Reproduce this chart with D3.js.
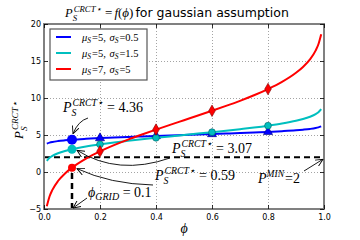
<!DOCTYPE html>
<html>
<head>
<meta charset="utf-8">
<script src="https://cdn.jsdelivr.net/npm/d3@7"></script>
<style>
body { margin: 0; background: #fff; }
svg { display: block; }
.tk text { font-family: "DejaVu Sans", sans-serif; font-size: 8px; fill: #000; }
.tk .domain { display: none; }
.grid line { stroke: #000; stroke-opacity: 0.6; stroke-dasharray: 1,2; stroke-width: 0.6; }
.grid .domain { display: none; }
.m { font-family: "Liberation Serif", "DejaVu Serif", serif; }
</style>
</head>
<body>
<svg id="chart" width="360" height="240"></svg>
<script>
// quantile curves
var phi = [0.01, 0.02, 0.03, 0.05, 0.075, 0.1, 0.15, 0.2, 0.25, 0.3, 0.35, 0.4, 0.45, 0.5,
  0.55, 0.6, 0.65, 0.7, 0.75, 0.8, 0.85, 0.9, 0.925, 0.95, 0.97, 0.98, 0.99];
var blueVals = [3.84, 3.97, 4.06, 4.18, 4.28, 4.36, 4.48, 4.58, 4.66, 4.74, 4.81, 4.87, 4.94, 5.00,
  5.06, 5.13, 5.19, 5.26, 5.34, 5.42, 5.52, 5.64, 5.72, 5.82, 5.94, 6.03, 6.16];
var cyanVals = [1.51, 1.92, 2.18, 2.53, 2.84, 3.08, 3.45, 3.74, 3.99, 4.21, 4.42, 4.62, 4.81, 5.00,
  5.19, 5.38, 5.58, 5.79, 6.01, 6.26, 6.55, 6.92, 7.16, 7.47, 7.82, 8.08, 8.49];
var redVals = [-4.63, -3.27, -2.41, -1.22, -0.20, 0.59, 1.82, 2.79, 3.63, 4.38, 5.07, 5.73, 6.37, 7.00,
  7.63, 8.27, 8.93, 9.62, 10.37, 11.21, 12.18, 13.41, 14.20, 15.22, 16.41, 17.27, 18.63];

// markers
var markPhi = [0.2, 0.4, 0.6, 0.8];
var blueMarks = [4.58, 4.87, 5.13, 5.42];
var cyanMarks = [3.74, 4.62, 5.38, 6.26];
var redMarks = [2.79, 5.73, 8.27, 11.21];

var phiGrid = 0.1;
var critVals = [4.36, 3.07, 0.59];
var pMin = 2;

var xTicks = [0, 0.2, 0.4, 0.6, 0.8, 1.0];
var yTicks = [-5, 0, 5, 10, 15, 20];

var svg = d3.select("#chart");
var x = d3.scaleLinear().domain([0, 1]).range([44, 324]);
var y = d3.scaleLinear().domain([-5, 20]).range([209, 24]);

// grid
svg.append("g").attr("class", "grid")
  .attr("transform", "translate(0,209)")
  .call(d3.axisBottom(x).tickValues([0.2, 0.4, 0.6, 0.8]).tickSize(-185).tickFormat(""));
svg.append("g").attr("class", "grid")
  .attr("transform", "translate(44,0)")
  .call(d3.axisLeft(y).tickValues([0, 5, 10, 15]).tickSize(-280).tickFormat(""));

// P_MIN and phi_GRID dashed lines
svg.append("line")
  .attr("x1", x(0)).attr("x2", x(1)).attr("y1", y(pMin)).attr("y2", y(pMin))
  .attr("stroke", "#000").attr("stroke-width", 2).attr("stroke-dasharray", "6,4");
svg.append("line")
  .attr("x1", x(phiGrid)).attr("x2", x(phiGrid)).attr("y1", y(-5)).attr("y2", y(critVals[2]))
  .attr("stroke", "#000").attr("stroke-width", 2.5).attr("stroke-dasharray", "6,4");

var series = [
  {vals: blueVals, marks: blueMarks, color: "#0000ff", edge: "#000080", shape: d3.symbolTriangle, r: 5},
  {vals: cyanVals, marks: cyanMarks, color: "#00bfbf", edge: "#005f5f", shape: d3.symbolCircle, r: 4.5},
  {vals: redVals, marks: redMarks, color: "#ff0000", edge: "#800000", shape: d3.symbolDiamond, r: 4}
];

var line = d3.line().x(function(d){ return x(d[0]); }).y(function(d){ return y(d[1]); }).curve(d3.curveMonotoneX);

series.forEach(function(s, k){
  svg.append("path")
    .datum(phi.map(function(p, i){ return [p, s.vals[i]]; }))
    .attr("d", line).attr("fill", "none").attr("stroke", s.color).attr("stroke-width", 2);
  svg.selectAll(null).data(markPhi.map(function(p, i){ return [p, s.marks[i]]; }))
    .enter().append("path")
    .attr("transform", function(d){ return "translate(" + x(d[0]) + "," + y(d[1]) + ")"; })
    .attr("d", d3.symbol().type(s.shape).size(k == 2 ? 38 : 36))
    .attr("fill", s.color).attr("stroke", s.edge).attr("stroke-width", 0.6);
  svg.append("circle")
    .attr("cx", x(phiGrid)).attr("cy", y(critVals[k])).attr("r", s.r)
    .attr("fill", s.color);
});

// frame
svg.append("rect").attr("x", 44).attr("y", 24).attr("width", 280).attr("height", 185)
  .attr("fill", "none").attr("stroke", "#808080").attr("stroke-width", 2);

// axes with inward ticks
svg.append("g").attr("class", "tk").attr("transform", "translate(0,209)")
  .call(d3.axisBottom(x).tickValues(xTicks).tickSize(-4).tickPadding(5).tickFormat(d3.format(".1f")));
svg.append("g").attr("class", "tk").attr("transform", "translate(44,0)")
  .call(d3.axisLeft(y).tickValues(yTicks).tickSize(-4).tickPadding(3));
svg.append("g").attr("class", "tk").attr("transform", "translate(0,24)")
  .call(d3.axisTop(x).tickValues(xTicks).tickSize(-4).tickFormat(""));
svg.append("g").attr("class", "tk").attr("transform", "translate(324,0)")
  .call(d3.axisRight(y).tickValues(yTicks).tickSize(-4).tickFormat(""));
svg.selectAll(".tk line").attr("stroke", "#000").attr("stroke-width", 0.8);

// P_S^{CRCT*} with stacked super/subscript
function critLabel(g, x0, y0, fs, rest){
  var p = g.append("text").attr("class", "m").attr("x", x0).attr("y", y0)
    .attr("font-size", fs).attr("font-style", "italic").text("P");
  var w = p.node().getComputedTextLength();
  var sup = g.append("text").attr("class", "m").attr("x", x0 + w + 1).attr("y", y0 - fs * 0.42)
    .attr("font-size", fs * 0.7).attr("font-style", "italic").text("CRCT\u22c6");
  g.append("text").attr("class", "m").attr("x", x0 + w).attr("y", y0 + fs * 0.32)
    .attr("font-size", fs * 0.7).attr("font-style", "italic").text("S");
  var end = x0 + w + sup.node().getComputedTextLength() + 1.5;
  if (rest) {
    g.append("text").attr("class", "m").attr("x", end).attr("y", y0)
      .attr("font-size", fs).attr("xml:space", "preserve").text(rest);
  }
  return end;
}

// title
var t = svg.append("g");
var e = critLabel(t, 65, 17, 12.5, null);
var ft = t.append("text").attr("class", "m").attr("x", e + 4).attr("y", 17).attr("font-size", 13);
ft.append("tspan").text("=");
ft.append("tspan").attr("font-style", "italic").attr("dx", 2).text("f");
ft.append("tspan").text("(");
ft.append("tspan").attr("font-style", "italic").text("\u03d5");
ft.append("tspan").text(")");
var e2 = e + 4 + ft.node().getComputedTextLength() + 4;
t.append("text").attr("x", e2).attr("y", 17)
  .attr("font-family", "DejaVu Sans, sans-serif").attr("font-size", 12.5).text("for gaussian assumption");

// y label
var yl = svg.append("g").attr("transform", "translate(23,139) rotate(-90)");
critLabel(yl, 0, 0, 13, null);

// x label
svg.append("text").attr("class", "m").attr("x", 184).attr("y", 233)
  .attr("text-anchor", "middle").attr("font-size", 14).attr("font-style", "italic").text("\u03d5");

// legend
var legItems = [
  {mu: "5", sg: "0.5", color: "#0000ff"},
  {mu: "5", sg: "1.5", color: "#00bfbf"},
  {mu: "7", sg: "5", color: "#ff0000"}
];
svg.append("rect").attr("x", 50).attr("y", 29).attr("width", 97).attr("height", 51)
  .attr("fill", "#fff").attr("stroke", "#555").attr("stroke-width", 1.2);
legItems.forEach(function(d, i){
  var ly = 37 + i * 16;
  svg.append("line").attr("x1", 56).attr("x2", 71).attr("y1", ly).attr("y2", ly)
    .attr("stroke", d.color).attr("stroke-width", 2);
  var tx = svg.append("text").attr("class", "m").attr("x", 82).attr("y", ly + 3.5).attr("font-size", 10.5);
  tx.append("tspan").attr("font-style", "italic").text("\u03bc");
  tx.append("tspan").attr("font-style", "italic").attr("font-size", 7.5).attr("dy", 2).text("S");
  tx.append("tspan").attr("dy", -2).attr("dx", 1).text("=" + d.mu + ", ");
  tx.append("tspan").attr("font-style", "italic").attr("dx", 1).text("\u03c3");
  tx.append("tspan").attr("font-style", "italic").attr("font-size", 7.5).attr("dy", 2).text("S");
  tx.append("tspan").attr("dy", -2).attr("dx", 1).text("=" + d.sg);
});

// arrow head
svg.append("defs").append("marker").attr("id", "ah")
  .attr("viewBox", "0 0 8 8").attr("refX", 7.5).attr("refY", 4)
  .attr("markerWidth", 8).attr("markerHeight", 8).attr("markerUnits", "userSpaceOnUse")
  .attr("orient", "auto")
  .append("path").attr("d", "M0,0.5 L7.5,4 L0,7.5").attr("fill", "none").attr("stroke", "#000").attr("stroke-width", 0.9);

function arrow(d){
  svg.append("path").attr("d", d).attr("fill", "none").attr("stroke", "#000")
    .attr("stroke-width", 0.9).attr("marker-end", "url(#ah)");
}

var gx = x(phiGrid);
// annotations
var a = svg.append("g");
critLabel(a, 63, 112, 14, " = " + critVals[0].toFixed(2));
arrow("M88,118 Q78,121 " + (gx + 1) + "," + (y(critVals[0]) - 6));

critLabel(a, 172, 153, 14, " = " + critVals[1].toFixed(2));
arrow("M170,158 Q118,176 " + (gx + 5) + "," + (y(critVals[1]) + 1));

critLabel(a, 155, 180, 14, " = " + critVals[2].toFixed(2));
arrow("M153,185 Q110,184 " + (gx + 5) + "," + (y(critVals[2]) + 1));

var pg = a.append("text").attr("class", "m").attr("x", 88).attr("y", 197).attr("font-size", 14)
  .attr("xml:space", "preserve");
pg.append("tspan").attr("font-style", "italic").text("\u03d5");
pg.append("tspan").attr("font-style", "italic").attr("font-size", 10).attr("dy", 3).text("GRID");
pg.append("tspan").attr("dy", -3).text(" = " + phiGrid);
arrow("M87,198 L" + (gx + 1) + "," + (y(-5) - 1));

var pm = a.append("text").attr("class", "m").attr("x", 258).attr("y", 183).attr("font-size", 14);
pm.append("tspan").attr("font-style", "italic").text("P");
pm.append("tspan").attr("font-style", "italic").attr("font-size", 9.5).attr("dy", -6).text("MIN");
pm.append("tspan").attr("dy", 6).attr("dx", 1).text("=" + pMin);
arrow("M304,171 L" + (x(1) - 1) + "," + (y(pMin) + 2));
</script>
</body>
</html>
